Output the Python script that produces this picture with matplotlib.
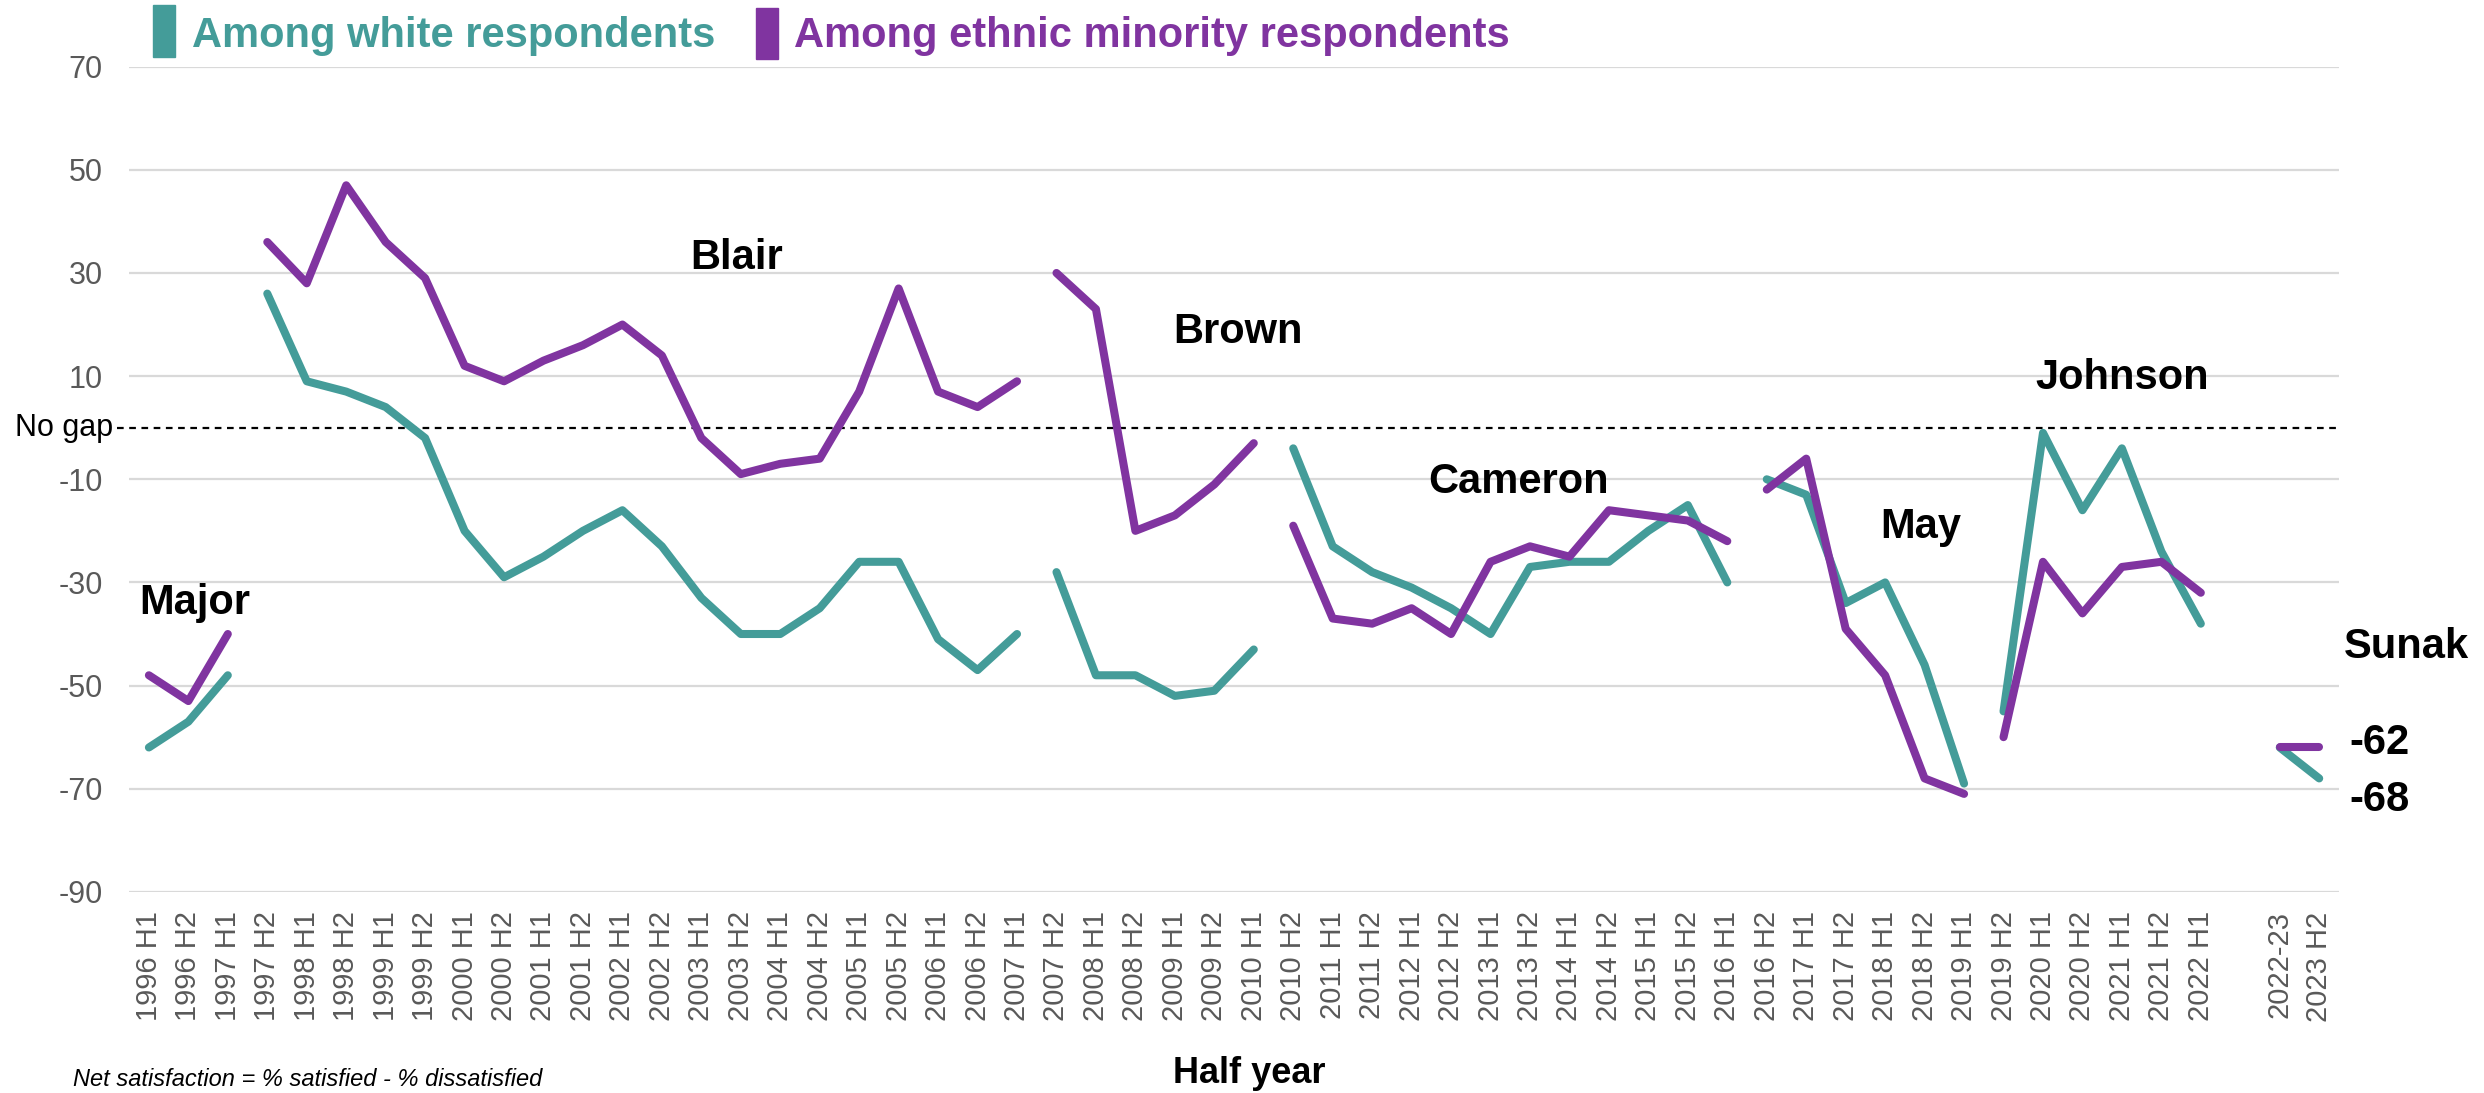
import numpy as np
import matplotlib
matplotlib.use('Agg')
import matplotlib.pyplot as plt
from matplotlib.patches import Rectangle

plt.rcParams['font.family'] = ['Liberation Sans', 'DejaVu Sans']
plt.rcParams['axes.unicode_minus'] = False

# half-year categories (one blank slot before the Sunak points)
half_years = ['1996 H1', '1996 H2', '1997 H1', '1997 H2', '1998 H1', '1998 H2',
              '1999 H1', '1999 H2', '2000 H1', '2000 H2', '2001 H1', '2001 H2',
              '2002 H1', '2002 H2', '2003 H1', '2003 H2', '2004 H1', '2004 H2',
              '2005 H1', '2005 H2', '2006 H1', '2006 H2', '2007 H1', '2007 H2',
              '2008 H1', '2008 H2', '2009 H1', '2009 H2', '2010 H1', '2010 H2',
              '2011 H1', '2011 H2', '2012 H1', '2012 H2', '2013 H1', '2013 H2',
              '2014 H1', '2014 H2', '2015 H1', '2015 H2', '2016 H1', '2016 H2',
              '2017 H1', '2017 H2', '2018 H1', '2018 H2', '2019 H1', '2019 H2',
              '2020 H1', '2020 H2', '2021 H1', '2021 H2', '2022 H1', '',
              '2022-23', '2023 H2']

pm = (['Major'] * 3 + ['Blair'] * 20 + ['Brown'] * 6 + ['Cameron'] * 12
      + ['May'] * 6 + ['Johnson'] * 6 + [''] + ['Sunak'] * 2)

white = [-62, -57, -48,
         26, 9, 7, 4, -2, -20, -29, -25, -20, -16, -23, -33, -40, -40, -35, -26, -26, -41, -47, -40,
         -28, -48, -48, -52, -51, -43,
         -4, -23, -28, -31, -35, -40, -27, -26, -26, -20, -15, -30,
         -10, -13, -34, -30, -46, -69,
         -55, -1, -16, -4, -24, -38,
         np.nan,
         -62, -68]

minority = [-48, -53, -40,
            36, 28, 47, 36, 29, 12, 9, 13, 16, 20, 14, -2, -9, -7, -6, 7, 27, 7, 4, 9,
            30, 23, -20, -17, -11, -3,
            -19, -37, -38, -35, -40, -26, -23, -25, -16, -17, -18, -22,
            -12, -6, -39, -48, -68, -71,
            -60, -26, -36, -27, -26, -32,
            np.nan,
            -62, -62]

teal = '#449C99'
purple = '#8034A0'

fig = plt.figure(figsize=(24.84, 10.93), dpi=100)
ax = fig.add_axes([0.052, 0.184, 0.8896, 0.755])

x = np.arange(len(half_years))
pm_arr = np.array(pm)
for name in ['Major', 'Blair', 'Brown', 'Cameron', 'May', 'Johnson', 'Sunak']:
    idx = x[pm_arr == name]
    ax.plot(idx, np.array(white)[idx], color=teal, lw=5.8,
            solid_capstyle='round', solid_joinstyle='round', zorder=3)
    ax.plot(idx, np.array(minority)[idx], color=purple, lw=5.8,
            solid_capstyle='round', solid_joinstyle='round', zorder=4)

# no gap line
ax.plot([-0.8, len(half_years) - 0.5], [0, 0], color='black', lw=1.6,
        ls=(0, (3, 2.5)), clip_on=False, zorder=2)
ax.text(-0.9, 0, 'No gap', ha='right', va='center', fontsize=22, color='black')

ax.set_xlim(-0.5, len(half_years) - 0.5)
ax.set_ylim(-90, 70)
ax.set_yticks(np.arange(-90, 71, 20))
ax.set_xticks(x)
ax.set_xticklabels(half_years, rotation=90, fontsize=21, color='#595959')
ax.tick_params(axis='y', labelsize=22, labelcolor='#595959', length=0, pad=19)
ax.tick_params(axis='x', length=0, pad=14)
ax.grid(axis='y', color='#D9D9D9', lw=1.6)
ax.set_axisbelow(True)
for s in ax.spines.values():
    s.set_visible(False)

# PM labels
labels = [('Major', -0.25, -34, 'left'), ('Blair', 14.9, 33, 'center'),
          ('Brown', 27.6, 18.6, 'center'), ('Cameron', 34.7, -10.6, 'center'),
          ('May', 44.9, -19.3, 'center'), ('Johnson', 50.0, 9.7, 'center'),
          ('Sunak', 57.2, -42.5, 'center')]
for txt, lx, ly, ha in labels:
    ax.text(lx, ly, txt, ha=ha, va='center', fontsize=30, fontweight='bold',
            color='black', clip_on=False)

ax.text(55.77, minority[-1] + 0.9, f'{minority[-1]:.0f}', ha='left', va='center',
        fontsize=30, fontweight='bold')
ax.text(55.77, white[-1] - 4.2, f'{white[-1]:.0f}', ha='left', va='center',
        fontsize=30, fontweight='bold')

# legend
fig.patches.append(Rectangle((0.0616, 0.948), 0.0089, 0.047, transform=fig.transFigure,
                             color=teal))
fig.text(0.0773, 0.957, 'Among white respondents', fontsize=30, fontweight='bold',
         color=teal, va='baseline')
fig.patches.append(Rectangle((0.3043, 0.946), 0.0089, 0.047, transform=fig.transFigure,
                             color=purple))
fig.text(0.3196, 0.957, 'Among ethnic minority respondents', fontsize=30,
         fontweight='bold', color=purple, va='baseline')

fig.text(0.503, 0.018, 'Half year', ha='center', va='center', fontsize=26,
         fontweight='bold')
fig.text(0.0294, 0.012, 'Net satisfaction = % satisfied - % dissatisfied', ha='left',
         va='center', fontsize=17, style='italic')

fig.savefig('out.png', dpi=100)
